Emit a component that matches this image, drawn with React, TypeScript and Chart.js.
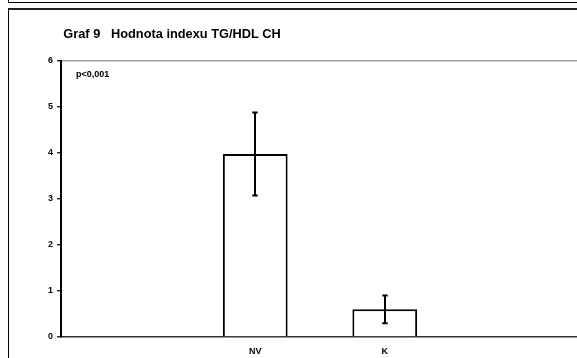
import React, { useEffect, useRef } from "react";
import { Chart, registerables } from "chart.js";

Chart.register(...registerables);

const categories = ["", "NV", "K", ""];
const means: (number | null)[] = [null, 3.97, 0.6, null];
const errors: (number | null)[] = [null, 0.9, 0.3, null];
const yMin = 0;
const yMax = 6;
const yStep = 1;
const titleText = "Graf 9   Hodnota indexu TG/HDL CH";
const noteText = "p<0,001";

const FONT = "'Liberation Sans', Arial, sans-serif";

const errorBarPlugin = {
  id: "errorBars",
  afterDatasetsDraw(chart: any) {
    const ctx = chart.ctx;
    const meta = chart.getDatasetMeta(0);
    const yScale = chart.scales.y;
    ctx.save();
    ctx.strokeStyle = "#000";
    ctx.lineWidth = 2;
    meta.data.forEach((bar: any, i: number) => {
      const v = means[i];
      const e = errors[i];
      if (v == null || e == null) return;
      const x = Math.round(bar.x);
      const yTop = yScale.getPixelForValue(v + e);
      const yBot = yScale.getPixelForValue(v - e);
      const cap = 2.7;
      ctx.beginPath();
      ctx.moveTo(x, yTop);
      ctx.lineTo(x, yBot);
      ctx.moveTo(x - cap, yTop);
      ctx.lineTo(x + cap, yTop);
      ctx.moveTo(x - cap, yBot);
      ctx.lineTo(x + cap, yBot);
      ctx.stroke();
    });
    ctx.restore();
  },
};

const textPlugin = {
  id: "texts",
  afterDraw(chart: any) {
    const ctx = chart.ctx;
    const area = chart.chartArea;
    ctx.save();
    ctx.fillStyle = "#000";
    ctx.textBaseline = "alphabetic";
    ctx.textAlign = "left";
    ctx.font = `bold 12.8px ${FONT}`;
    ctx.fillText(titleText, area.left + 2.3, 37.5);
    ctx.font = `bold 9px ${FONT}`;
    ctx.fillText(noteText, area.left + 15, 77);
    ctx.restore();
  },
};

export default function App() {
  const ref = useRef<HTMLCanvasElement | null>(null);

  useEffect(() => {
    if (!ref.current) return;
    const chart = new Chart(ref.current, {
      type: "bar",
      data: {
        labels: categories,
        datasets: [
          {
            data: means as any,
            backgroundColor: "#ffffff",
            borderColor: "#000000",
            borderWidth: 2,
            barPercentage: 0.5,
            categoryPercentage: 1,
          },
        ],
      },
      options: {
        responsive: false,
        animation: false,
        events: [],
        layout: { padding: { left: 0, right: 21, top: 60.5, bottom: 0 } },
        plugins: {
          legend: { display: false },
          title: { display: false },
          tooltip: { enabled: false },
        },
        scales: {
          x: {
            offset: true,
            afterFit: (s: any) => {
              s.height = 21;
            },
            grid: {
              color: "rgba(0,0,0,0)",
              drawTicks: false,
            },
            border: { color: "#333", width: 1.5 },
            ticks: {
              padding: 9,
              color: "#000",
              font: { family: FONT, size: 9, weight: "bold" },
            },
          },
          y: {
            min: yMin,
            max: yMax,
            afterFit: (s: any) => {
              s.width = 61;
            },
            grid: {
              color: (c: any) => (c.tick && c.tick.value === yMax ? "#a0a0a0" : "rgba(0,0,0,0)"),
              lineWidth: 1.5,
              tickColor: "#000",
              tickLength: 4,
              tickWidth: 1.2,
            },
            border: { color: "#000", width: 2 },
            ticks: {
              stepSize: yStep,
              padding: 4,
              color: "#000",
              font: { family: FONT, size: 9, weight: "bold" },
            },
          },
        },
      },
      plugins: [errorBarPlugin, textPlugin],
    });
    return () => chart.destroy();
  }, []);

  return (
    <div
      style={{
        position: "absolute",
        left: 0,
        top: 0,
        width: 577,
        height: 358,
        overflow: "hidden",
        background: "#fff",
      }}
    >
      <div
        style={{
          position: "absolute",
          left: 8,
          top: -10,
          width: 700,
          height: 12,
          borderLeft: "1px solid #000",
          borderBottom: "1px solid #000",
        }}
      />
      <div
        style={{
          position: "absolute",
          left: 8,
          top: 8,
          width: 700,
          height: 500,
          borderLeft: "1px solid #000",
          borderTop: "2px solid #222",
        }}
      />
      <canvas
        ref={ref}
        width={600}
        height={358}
        style={{ position: "absolute", left: 0, top: 0, width: 600, height: 358 }}
      />
    </div>
  );
}
